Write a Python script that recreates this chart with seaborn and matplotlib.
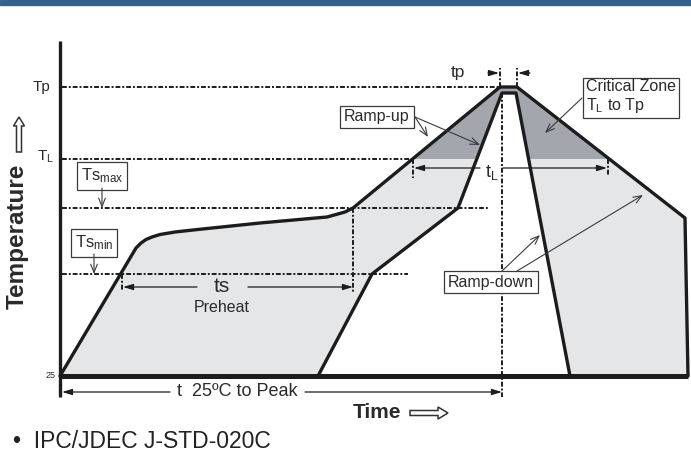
import numpy as np
import matplotlib
matplotlib.use("Agg")
import matplotlib.pyplot as plt
import matplotlib.patches as mpatches
import seaborn as sns

# schematic reflow profile (time / temperature in drawing units)
outer_time = [0, 76, 81, 86, 92, 100, 115, 133, 200, 267, 285, 293, 440, 457, 625, 628]
outer_temp = [0, 128, 133, 136.5, 139, 141.5, 144, 146, 153, 159, 164, 168, 289, 289, 158, 0]
inner_time = [258, 312, 398, 442, 456, 510]
inner_temp = [0, 102, 168, 283, 283, 0]

level_names = ["Ts_min", "Ts_max", "T_L", "Tp"]
level_temps = [102, 168, 217, 289]
level_ends = [348, 428, 353, 440]

t_max_axis = 628
ts_start, ts_end = 62, 293
tl_start, tl_end = 353, 548
tp_start, tp_end = 440, 457
peak_time = 442

LINE = "#1c1c1c"
LIGHT = "#e5e6e8"
DARK = "#a3a6ad"
TXT = "#2a2a2a"

sns.set_theme(style="white")
plt.rcParams["font.family"] = ["Liberation Sans", "DejaVu Sans"]
plt.rcParams["mathtext.fontset"] = "custom"
plt.rcParams["mathtext.rm"] = "Liberation Sans"
plt.rcParams["mathtext.it"] = "Liberation Sans:italic"

fig = plt.figure(figsize=(6.91, 4.57), dpi=100)
ax = fig.add_axes([0, 0, 1, 1])
ax.set_xlim(-60, 631)
ax.set_ylim(-81, 376)
ax.axis("off")

# top banner
fig.add_artist(mpatches.Rectangle((0, 1 - 5 / 457), 1, 5 / 457, transform=fig.transFigure,
                                  color="#34608f", zorder=10))

# filled zones between the two profiles
poly_t = list(outer_time) + list(inner_time[::-1])
poly_T = list(outer_temp) + list(inner_temp[::-1])
ax.fill(poly_t, poly_T, color=LIGHT, lw=0, zorder=1)
dark = ax.fill(poly_t, poly_T, color=DARK, lw=0, zorder=1.1)[0]
clip = mpatches.Rectangle((-100, level_temps[2]), 900, 200, transform=ax.transData)
dark.set_clip_path(clip)

# dotted guide lines
dot = dict(color=LINE, lw=1.4, ls=(0, (2.5, 1, 1, 1)), zorder=2)
for temp, end in zip(level_temps, level_ends):
    ax.plot([2, end], [temp, temp], **dot)
ax.plot([ts_end, ts_end], [level_temps[1], 84], **dot)
ax.plot([ts_start, ts_start], [level_temps[0], 86], **dot)
ax.plot([tl_start, tl_start], [level_temps[2], 198], **dot)
ax.plot([tl_end, tl_end], [level_temps[2], 200], **dot)
ax.plot([peak_time, peak_time], [283, -21], **dot)
ax.plot([tp_start, tp_start], [level_temps[3], 308], **dot)
ax.plot([tp_end, tp_end], [level_temps[3], 308], **dot)

# profile curves
sns.lineplot(x=outer_time, y=outer_temp, sort=False, estimator=None, ax=ax,
             color=LINE, lw=2.4, zorder=4)
sns.lineplot(x=inner_time, y=inner_temp, sort=False, estimator=None, ax=ax,
             color=LINE, lw=2.4, zorder=4)

# axes lines
ax.plot([0, 0], [-21, 335], color=LINE, lw=2.4, solid_capstyle="butt", zorder=5)
ax.plot([0, t_max_axis], [0, 0], color=LINE, lw=3.6, solid_capstyle="butt", zorder=5)

# level labels
ax.text(-10, level_temps[3], "Tp", ha="right", va="center", fontsize=11, color=TXT)
ax.text(-6, level_temps[2] + 2, r"T$_{\rm L}$", ha="right", va="center", fontsize=11, color=TXT)
ax.text(-4, 0, "25", ha="right", va="center", fontsize=6.5, color=TXT)

arr = dict(arrowstyle="-|>,head_length=0.5,head_width=0.15", color=LINE, lw=0.9,
           shrinkA=0, shrinkB=0)
thin = dict(arrowstyle="->,head_length=0.5,head_width=0.2", color="#3a3a3a", lw=0.8,
            shrinkA=0, shrinkB=0)
box = dict(boxstyle="square,pad=0.25", fc="white", ec="#3a3a3a", lw=0.9)

# ts / preheat
y_ts = 89
ax.annotate("", xy=(ts_start + 1, y_ts), xytext=(137, y_ts), arrowprops=arr, zorder=3)
ax.annotate("", xy=(ts_end, y_ts), xytext=(188, y_ts), arrowprops=arr, zorder=3)
ax.text(162, y_ts, "ts", ha="center", va="center", fontsize=15, color=TXT, zorder=3)
ax.text(162, 68, "Preheat", ha="center", va="center", fontsize=11.5, color=TXT, zorder=3)

# t 25C to peak
y_tp = -16
ax.annotate("", xy=(2, y_tp), xytext=(110, y_tp), arrowprops=arr, zorder=3)
ax.annotate("", xy=(peak_time, y_tp), xytext=(245, y_tp), arrowprops=arr, zorder=3)
ax.text(177, y_tp, "t  25ºC to Peak", ha="center", va="center", fontsize=13, color=TXT)

# tL
y_tl = 208
ax.annotate("", xy=(tl_start + 1, y_tl), xytext=(420, y_tl), arrowprops=arr, zorder=3)
ax.annotate("", xy=(tl_end - 1, y_tl), xytext=(443, y_tl), arrowprops=arr, zorder=3)
ax.text(432, y_tl - 4, r"t$_{\rm L}$", ha="center", va="center", fontsize=13, color=TXT, zorder=3)

# tp
y_pk = 303
ax.annotate("", xy=(tp_start - 1, y_pk), xytext=(428, y_pk), arrowprops=arr, zorder=3)
ax.annotate("", xy=(tp_end + 1, y_pk), xytext=(470, y_pk), arrowprops=arr, zorder=3)
ax.text(398, y_pk + 1, "tp", ha="center", va="center", fontsize=12.5, color=TXT)

# boxed callouts
ax.text(42, 200, r"Ts$_{\rm max}$", ha="center", va="center", fontsize=12, color=TXT, bbox=box, zorder=6)
ax.annotate("", xy=(42, level_temps[1]), xytext=(42, 188), arrowprops=thin, zorder=6)
ax.text(34, 133, r"Ts$_{\rm min}$", ha="center", va="center", fontsize=12, color=TXT, bbox=box, zorder=6)
ax.annotate("", xy=(34, level_temps[0]), xytext=(34, 122), arrowprops=thin, zorder=6)

ax.text(317, 259, "Ramp-up", ha="center", va="center", fontsize=11.5, color=TXT, bbox=box, zorder=6)
ax.annotate("", xy=(368, 239), xytext=(355, 259), arrowprops=thin, zorder=6)
ax.annotate("", xy=(420, 231), xytext=(355, 259), arrowprops=thin, zorder=6)

ax.text(431, 94, "Ramp-down", ha="center", va="center", fontsize=11.5, color=TXT, bbox=box, zorder=6)
ax.annotate("", xy=(480, 141), xytext=(442, 105), arrowprops=thin, zorder=6)
ax.annotate("", xy=(583, 181), xytext=(457, 105), arrowprops=thin, zorder=6)

ax.text(526, 279, "Critical Zone\n" + r"T$_{\rm L}$ to Tp", ha="left", va="center", fontsize=11.5,
        color=TXT, linespacing=1.1, bbox=dict(boxstyle="square,pad=0.2", fc="white", ec="#3a3a3a", lw=0.9),
        zorder=6)
ax.annotate("", xy=(485, 243), xytext=(522, 278), arrowprops=thin, zorder=6)

# axis titles with hollow arrows
ax.text(-43, 140, "Temperature", rotation=90, ha="center", va="center", fontsize=17.5,
        fontweight="bold", color=TXT)
ax.add_patch(mpatches.FancyArrow(-41, 224, 0, 35, width=5, head_width=11, head_length=9,
                                 length_includes_head=True, fc="white", ec="#333333", lw=1.1))
ax.text(317, -37, "Time", ha="center", va="center", fontsize=15, fontweight="bold", color=TXT)
ax.add_patch(mpatches.FancyArrow(350, -37, 38, 0, width=5, head_width=12, head_length=10,
                                 length_includes_head=True, fc="white", ec="#333333", lw=1.1))

ax.text(-47, -66, "•  IPC/JDEC J-STD-020C", ha="left", va="center", fontsize=16.5, color="#222222")

fig.savefig("out.png", dpi=100)
